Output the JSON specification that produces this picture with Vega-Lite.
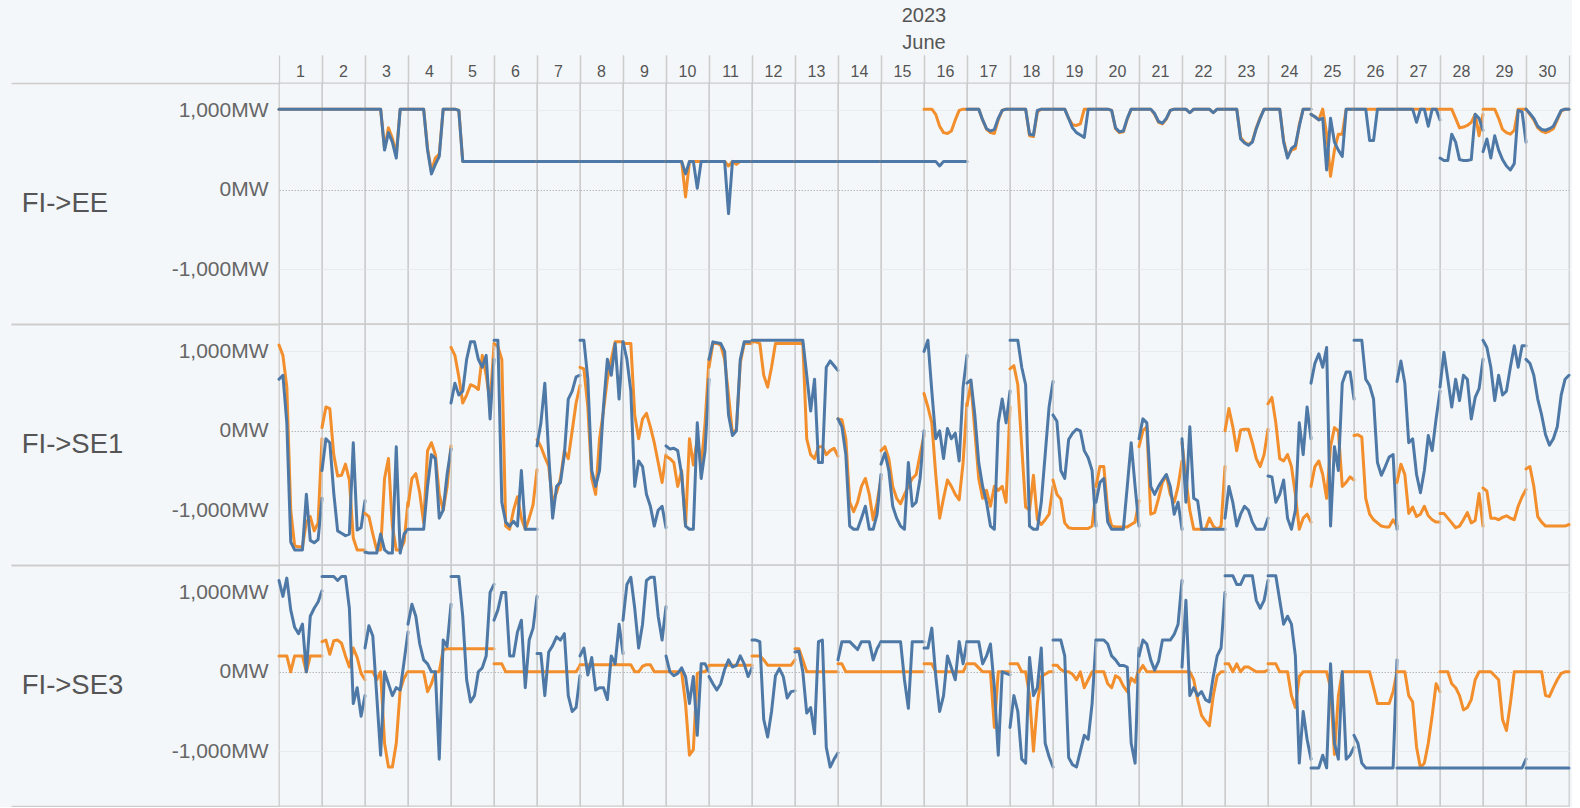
{
"$schema": "https://vega.github.io/schema/vega-lite/v6.json",
"background": "#f4f7f9",
"padding": {"left": 10, "top": 6, "right": 0, "bottom": 0},
"data": {"values": [
{"c":"FI->EE","d":1,"h":0,"o":1016,"b":1016},{"c":"FI->EE","d":1,"h":2,"o":1016,"b":1016},{"c":"FI->EE","d":1,"h":4,"o":1016,"b":1016},{"c":"FI->EE","d":1,"h":6,"o":1016,"b":1016},{"c":"FI->EE","d":1,"h":8,"o":1016,"b":1016},{"c":"FI->EE","d":1,"h":10,"o":1016,"b":1016},{"c":"FI->EE","d":1,"h":12,"o":1016,"b":1016},{"c":"FI->EE","d":1,"h":14,"o":1016,"b":1016},{"c":"FI->EE","d":1,"h":16,"o":1016,"b":1016},{"c":"FI->EE","d":1,"h":18,"o":1016,"b":1016},{"c":"FI->EE","d":1,"h":20,"o":1016,"b":1016},{"c":"FI->EE","d":1,"h":22,"o":1016,"b":1016},
{"c":"FI->EE","d":2,"h":0,"o":1016,"b":1016},{"c":"FI->EE","d":2,"h":2,"o":1016,"b":1016},{"c":"FI->EE","d":2,"h":4,"o":1016,"b":1016},{"c":"FI->EE","d":2,"h":6,"o":1016,"b":1016},{"c":"FI->EE","d":2,"h":8,"o":1016,"b":1016},{"c":"FI->EE","d":2,"h":10,"o":1016,"b":1016},{"c":"FI->EE","d":2,"h":12,"o":1016,"b":1016},{"c":"FI->EE","d":2,"h":14,"o":1016,"b":1016},{"c":"FI->EE","d":2,"h":16,"o":1016,"b":1016},{"c":"FI->EE","d":2,"h":18,"o":1016,"b":1016},{"c":"FI->EE","d":2,"h":20,"o":1016,"b":1016},{"c":"FI->EE","d":2,"h":22,"o":1016,"b":1016},
{"c":"FI->EE","d":3,"h":0,"o":1016,"b":1016},{"c":"FI->EE","d":3,"h":2,"o":1016,"b":1016},{"c":"FI->EE","d":3,"h":4,"o":1016,"b":1016},{"c":"FI->EE","d":3,"h":6,"o":1016,"b":1016},{"c":"FI->EE","d":3,"h":8,"o":1016,"b":1016},{"c":"FI->EE","d":3,"h":10,"o":520,"b":500},{"c":"FI->EE","d":3,"h":12,"o":780,"b":720},{"c":"FI->EE","d":3,"h":14,"o":650,"b":600},{"c":"FI->EE","d":3,"h":16,"o":450,"b":400},{"c":"FI->EE","d":3,"h":18,"o":1016,"b":1016},{"c":"FI->EE","d":3,"h":20,"o":1016,"b":1016},{"c":"FI->EE","d":3,"h":22,"o":1016,"b":1016},
{"c":"FI->EE","d":4,"h":0,"o":1016,"b":1016},{"c":"FI->EE","d":4,"h":2,"o":1016,"b":1016},{"c":"FI->EE","d":4,"h":4,"o":1016,"b":1016},{"c":"FI->EE","d":4,"h":6,"o":1016,"b":1016},{"c":"FI->EE","d":4,"h":8,"o":1016,"b":1016},{"c":"FI->EE","d":4,"h":10,"o":520,"b":500},{"c":"FI->EE","d":4,"h":12,"o":230,"b":200},{"c":"FI->EE","d":4,"h":14,"o":400,"b":320},{"c":"FI->EE","d":4,"h":16,"o":450,"b":420},{"c":"FI->EE","d":4,"h":18,"o":1016,"b":1016},{"c":"FI->EE","d":4,"h":20,"o":1016,"b":1016},{"c":"FI->EE","d":4,"h":22,"o":1016,"b":1016},
{"c":"FI->EE","d":5,"h":0,"o":1016,"b":1016},{"c":"FI->EE","d":5,"h":2,"o":1016,"b":1016},{"c":"FI->EE","d":5,"h":4,"o":1000,"b":1000},{"c":"FI->EE","d":5,"h":6,"o":358,"b":358},{"c":"FI->EE","d":5,"h":8,"o":358,"b":358},{"c":"FI->EE","d":5,"h":10,"o":358,"b":358},{"c":"FI->EE","d":5,"h":12,"o":358,"b":358},{"c":"FI->EE","d":5,"h":14,"o":358,"b":358},{"c":"FI->EE","d":5,"h":16,"o":358,"b":358},{"c":"FI->EE","d":5,"h":18,"o":358,"b":358},{"c":"FI->EE","d":5,"h":20,"o":358,"b":358},{"c":"FI->EE","d":5,"h":22,"o":358,"b":358},
{"c":"FI->EE","d":6,"h":0,"o":358,"b":358},{"c":"FI->EE","d":6,"h":2,"o":358,"b":358},{"c":"FI->EE","d":6,"h":4,"o":358,"b":358},{"c":"FI->EE","d":6,"h":6,"o":358,"b":358},{"c":"FI->EE","d":6,"h":8,"o":358,"b":358},{"c":"FI->EE","d":6,"h":10,"o":358,"b":358},{"c":"FI->EE","d":6,"h":12,"o":358,"b":358},{"c":"FI->EE","d":6,"h":14,"o":358,"b":358},{"c":"FI->EE","d":6,"h":16,"o":358,"b":358},{"c":"FI->EE","d":6,"h":18,"o":358,"b":358},{"c":"FI->EE","d":6,"h":20,"o":358,"b":358},{"c":"FI->EE","d":6,"h":22,"o":358,"b":358},
{"c":"FI->EE","d":7,"h":0,"o":358,"b":358},{"c":"FI->EE","d":7,"h":2,"o":358,"b":358},{"c":"FI->EE","d":7,"h":4,"o":358,"b":358},{"c":"FI->EE","d":7,"h":6,"o":358,"b":358},{"c":"FI->EE","d":7,"h":8,"o":358,"b":358},{"c":"FI->EE","d":7,"h":10,"o":358,"b":358},{"c":"FI->EE","d":7,"h":12,"o":358,"b":358},{"c":"FI->EE","d":7,"h":14,"o":358,"b":358},{"c":"FI->EE","d":7,"h":16,"o":358,"b":358},{"c":"FI->EE","d":7,"h":18,"o":358,"b":358},{"c":"FI->EE","d":7,"h":20,"o":358,"b":358},{"c":"FI->EE","d":7,"h":22,"o":358,"b":358},
{"c":"FI->EE","d":8,"h":0,"o":358,"b":358},{"c":"FI->EE","d":8,"h":2,"o":358,"b":358},{"c":"FI->EE","d":8,"h":4,"o":358,"b":358},{"c":"FI->EE","d":8,"h":6,"o":358,"b":358},{"c":"FI->EE","d":8,"h":8,"o":358,"b":358},{"c":"FI->EE","d":8,"h":10,"o":358,"b":358},{"c":"FI->EE","d":8,"h":12,"o":358,"b":358},{"c":"FI->EE","d":8,"h":14,"o":358,"b":358},{"c":"FI->EE","d":8,"h":16,"o":358,"b":358},{"c":"FI->EE","d":8,"h":18,"o":358,"b":358},{"c":"FI->EE","d":8,"h":20,"o":358,"b":358},{"c":"FI->EE","d":8,"h":22,"o":358,"b":358},
{"c":"FI->EE","d":9,"h":0,"o":358,"b":358},{"c":"FI->EE","d":9,"h":2,"o":358,"b":358},{"c":"FI->EE","d":9,"h":4,"o":358,"b":358},{"c":"FI->EE","d":9,"h":6,"o":358,"b":358},{"c":"FI->EE","d":9,"h":8,"o":358,"b":358},{"c":"FI->EE","d":9,"h":10,"o":358,"b":358},{"c":"FI->EE","d":9,"h":12,"o":358,"b":358},{"c":"FI->EE","d":9,"h":14,"o":358,"b":358},{"c":"FI->EE","d":9,"h":16,"o":358,"b":358},{"c":"FI->EE","d":9,"h":18,"o":358,"b":358},{"c":"FI->EE","d":9,"h":20,"o":358,"b":358},{"c":"FI->EE","d":9,"h":22,"o":358,"b":358},
{"c":"FI->EE","d":10,"h":0,"o":358,"b":358},{"c":"FI->EE","d":10,"h":2,"o":358,"b":358},{"c":"FI->EE","d":10,"h":4,"o":358,"b":358},{"c":"FI->EE","d":10,"h":6,"o":358,"b":358},{"c":"FI->EE","d":10,"h":8,"o":358,"b":358},{"c":"FI->EE","d":10,"h":10,"o":-90,"b":200},{"c":"FI->EE","d":10,"h":12,"o":358,"b":358},{"c":"FI->EE","d":10,"h":14,"o":358,"b":358},{"c":"FI->EE","d":10,"h":16,"o":358,"b":20},{"c":"FI->EE","d":10,"h":18,"o":358,"b":358},{"c":"FI->EE","d":10,"h":20,"o":358,"b":358},{"c":"FI->EE","d":10,"h":22,"o":358,"b":358},
{"c":"FI->EE","d":11,"h":0,"o":358,"b":358},{"c":"FI->EE","d":11,"h":2,"o":358,"b":358},{"c":"FI->EE","d":11,"h":4,"o":358,"b":358},{"c":"FI->EE","d":11,"h":6,"o":358,"b":358},{"c":"FI->EE","d":11,"h":8,"o":358,"b":358},{"c":"FI->EE","d":11,"h":10,"o":300,"b":-300},{"c":"FI->EE","d":11,"h":12,"o":358,"b":358},{"c":"FI->EE","d":11,"h":14,"o":320,"b":358},{"c":"FI->EE","d":11,"h":16,"o":358,"b":358},{"c":"FI->EE","d":11,"h":18,"o":358,"b":358},{"c":"FI->EE","d":11,"h":20,"o":358,"b":358},{"c":"FI->EE","d":11,"h":22,"o":358,"b":358},
{"c":"FI->EE","d":12,"h":0,"o":358,"b":358},{"c":"FI->EE","d":12,"h":2,"o":358,"b":358},{"c":"FI->EE","d":12,"h":4,"o":358,"b":358},{"c":"FI->EE","d":12,"h":6,"o":358,"b":358},{"c":"FI->EE","d":12,"h":8,"o":358,"b":358},{"c":"FI->EE","d":12,"h":10,"o":358,"b":358},{"c":"FI->EE","d":12,"h":12,"o":358,"b":358},{"c":"FI->EE","d":12,"h":14,"o":358,"b":358},{"c":"FI->EE","d":12,"h":16,"o":358,"b":358},{"c":"FI->EE","d":12,"h":18,"o":358,"b":358},{"c":"FI->EE","d":12,"h":20,"o":358,"b":358},{"c":"FI->EE","d":12,"h":22,"o":358,"b":358},
{"c":"FI->EE","d":13,"h":0,"o":358,"b":358},{"c":"FI->EE","d":13,"h":2,"o":358,"b":358},{"c":"FI->EE","d":13,"h":4,"o":358,"b":358},{"c":"FI->EE","d":13,"h":6,"o":358,"b":358},{"c":"FI->EE","d":13,"h":8,"o":358,"b":358},{"c":"FI->EE","d":13,"h":10,"o":358,"b":358},{"c":"FI->EE","d":13,"h":12,"o":358,"b":358},{"c":"FI->EE","d":13,"h":14,"o":358,"b":358},{"c":"FI->EE","d":13,"h":16,"o":358,"b":358},{"c":"FI->EE","d":13,"h":18,"o":358,"b":358},{"c":"FI->EE","d":13,"h":20,"o":358,"b":358},{"c":"FI->EE","d":13,"h":22,"o":358,"b":358},
{"c":"FI->EE","d":14,"h":0,"o":358,"b":358},{"c":"FI->EE","d":14,"h":2,"o":358,"b":358},{"c":"FI->EE","d":14,"h":4,"o":358,"b":358},{"c":"FI->EE","d":14,"h":6,"o":358,"b":358},{"c":"FI->EE","d":14,"h":8,"o":358,"b":358},{"c":"FI->EE","d":14,"h":10,"o":358,"b":358},{"c":"FI->EE","d":14,"h":12,"o":358,"b":358},{"c":"FI->EE","d":14,"h":14,"o":358,"b":358},{"c":"FI->EE","d":14,"h":16,"o":358,"b":358},{"c":"FI->EE","d":14,"h":18,"o":358,"b":358},{"c":"FI->EE","d":14,"h":20,"o":358,"b":358},{"c":"FI->EE","d":14,"h":22,"o":358,"b":358},
{"c":"FI->EE","d":15,"h":0,"o":358,"b":358},{"c":"FI->EE","d":15,"h":2,"o":358,"b":358},{"c":"FI->EE","d":15,"h":4,"o":358,"b":358},{"c":"FI->EE","d":15,"h":6,"o":358,"b":358},{"c":"FI->EE","d":15,"h":8,"o":358,"b":358},{"c":"FI->EE","d":15,"h":10,"o":358,"b":358},{"c":"FI->EE","d":15,"h":12,"o":358,"b":358},{"c":"FI->EE","d":15,"h":14,"o":358,"b":358},{"c":"FI->EE","d":15,"h":16,"o":358,"b":358},{"c":"FI->EE","d":15,"h":18,"o":358,"b":358},{"c":"FI->EE","d":15,"h":20,"o":358,"b":358},{"c":"FI->EE","d":15,"h":22,"o":358,"b":358},
{"c":"FI->EE","d":16,"h":0,"o":1016,"b":358},{"c":"FI->EE","d":16,"h":2,"o":1016,"b":358},{"c":"FI->EE","d":16,"h":4,"o":1016,"b":358},{"c":"FI->EE","d":16,"h":6,"o":950,"b":358},{"c":"FI->EE","d":16,"h":8,"o":800,"b":300},{"c":"FI->EE","d":16,"h":10,"o":720,"b":358},{"c":"FI->EE","d":16,"h":12,"o":710,"b":358},{"c":"FI->EE","d":16,"h":14,"o":740,"b":358},{"c":"FI->EE","d":16,"h":16,"o":880,"b":358},{"c":"FI->EE","d":16,"h":18,"o":1000,"b":358},{"c":"FI->EE","d":16,"h":20,"o":1016,"b":358},{"c":"FI->EE","d":16,"h":22,"o":1016,"b":358},
{"c":"FI->EE","d":17,"h":0,"o":1016,"b":1016},{"c":"FI->EE","d":17,"h":2,"o":1016,"b":1016},{"c":"FI->EE","d":17,"h":4,"o":1016,"b":1016},{"c":"FI->EE","d":17,"h":6,"o":1016,"b":1016},{"c":"FI->EE","d":17,"h":8,"o":880,"b":880},{"c":"FI->EE","d":17,"h":10,"o":760,"b":770},{"c":"FI->EE","d":17,"h":12,"o":720,"b":740},{"c":"FI->EE","d":17,"h":14,"o":710,"b":760},{"c":"FI->EE","d":17,"h":16,"o":880,"b":900},{"c":"FI->EE","d":17,"h":18,"o":1000,"b":1000},{"c":"FI->EE","d":17,"h":20,"o":1016,"b":1016},{"c":"FI->EE","d":17,"h":22,"o":1016,"b":1016},
{"c":"FI->EE","d":18,"h":0,"o":1016,"b":1016},{"c":"FI->EE","d":18,"h":2,"o":1016,"b":1016},{"c":"FI->EE","d":18,"h":4,"o":1016,"b":1016},{"c":"FI->EE","d":18,"h":6,"o":1016,"b":1016},{"c":"FI->EE","d":18,"h":8,"o":1016,"b":1016},{"c":"FI->EE","d":18,"h":10,"o":680,"b":700},{"c":"FI->EE","d":18,"h":12,"o":670,"b":690},{"c":"FI->EE","d":18,"h":14,"o":980,"b":1000},{"c":"FI->EE","d":18,"h":16,"o":1016,"b":1016},{"c":"FI->EE","d":18,"h":18,"o":1016,"b":1016},{"c":"FI->EE","d":18,"h":20,"o":1016,"b":1016},{"c":"FI->EE","d":18,"h":22,"o":1016,"b":1016},
{"c":"FI->EE","d":19,"h":0,"o":1016,"b":1016},{"c":"FI->EE","d":19,"h":2,"o":1016,"b":1016},{"c":"FI->EE","d":19,"h":4,"o":1016,"b":1016},{"c":"FI->EE","d":19,"h":6,"o":1016,"b":1016},{"c":"FI->EE","d":19,"h":8,"o":900,"b":900},{"c":"FI->EE","d":19,"h":10,"o":820,"b":780},{"c":"FI->EE","d":19,"h":12,"o":810,"b":720},{"c":"FI->EE","d":19,"h":14,"o":830,"b":690},{"c":"FI->EE","d":19,"h":16,"o":1016,"b":660},{"c":"FI->EE","d":19,"h":18,"o":1016,"b":1016},{"c":"FI->EE","d":19,"h":20,"o":1016,"b":1016},{"c":"FI->EE","d":19,"h":22,"o":1016,"b":1016},
{"c":"FI->EE","d":20,"h":0,"o":1016,"b":1016},{"c":"FI->EE","d":20,"h":2,"o":1016,"b":1016},{"c":"FI->EE","d":20,"h":4,"o":1016,"b":1016},{"c":"FI->EE","d":20,"h":6,"o":1016,"b":1016},{"c":"FI->EE","d":20,"h":8,"o":1000,"b":1000},{"c":"FI->EE","d":20,"h":10,"o":770,"b":780},{"c":"FI->EE","d":20,"h":12,"o":720,"b":730},{"c":"FI->EE","d":20,"h":14,"o":730,"b":740},{"c":"FI->EE","d":20,"h":16,"o":890,"b":900},{"c":"FI->EE","d":20,"h":18,"o":1016,"b":1016},{"c":"FI->EE","d":20,"h":20,"o":1016,"b":1016},{"c":"FI->EE","d":20,"h":22,"o":1016,"b":1016},
{"c":"FI->EE","d":21,"h":0,"o":1016,"b":1016},{"c":"FI->EE","d":21,"h":2,"o":1016,"b":1016},{"c":"FI->EE","d":21,"h":4,"o":1016,"b":1016},{"c":"FI->EE","d":21,"h":6,"o":1016,"b":1016},{"c":"FI->EE","d":21,"h":8,"o":950,"b":960},{"c":"FI->EE","d":21,"h":10,"o":850,"b":860},{"c":"FI->EE","d":21,"h":12,"o":830,"b":840},{"c":"FI->EE","d":21,"h":14,"o":890,"b":900},{"c":"FI->EE","d":21,"h":16,"o":1000,"b":1000},{"c":"FI->EE","d":21,"h":18,"o":1016,"b":1016},{"c":"FI->EE","d":21,"h":20,"o":1016,"b":1016},{"c":"FI->EE","d":21,"h":22,"o":1016,"b":1016},
{"c":"FI->EE","d":22,"h":0,"o":1016,"b":1016},{"c":"FI->EE","d":22,"h":2,"o":1016,"b":1016},{"c":"FI->EE","d":22,"h":4,"o":970,"b":970},{"c":"FI->EE","d":22,"h":6,"o":1016,"b":1016},{"c":"FI->EE","d":22,"h":8,"o":1016,"b":1016},{"c":"FI->EE","d":22,"h":10,"o":1016,"b":1016},{"c":"FI->EE","d":22,"h":12,"o":1016,"b":1016},{"c":"FI->EE","d":22,"h":14,"o":1016,"b":1016},{"c":"FI->EE","d":22,"h":16,"o":970,"b":970},{"c":"FI->EE","d":22,"h":18,"o":1016,"b":1016},{"c":"FI->EE","d":22,"h":20,"o":1016,"b":1016},{"c":"FI->EE","d":22,"h":22,"o":1016,"b":1016},
{"c":"FI->EE","d":23,"h":0,"o":1016,"b":1016},{"c":"FI->EE","d":23,"h":2,"o":1016,"b":1016},{"c":"FI->EE","d":23,"h":4,"o":1016,"b":1016},{"c":"FI->EE","d":23,"h":6,"o":1016,"b":1016},{"c":"FI->EE","d":23,"h":8,"o":660,"b":640},{"c":"FI->EE","d":23,"h":10,"o":600,"b":590},{"c":"FI->EE","d":23,"h":12,"o":570,"b":560},{"c":"FI->EE","d":23,"h":14,"o":610,"b":600},{"c":"FI->EE","d":23,"h":16,"o":780,"b":770},{"c":"FI->EE","d":23,"h":18,"o":910,"b":900},{"c":"FI->EE","d":23,"h":20,"o":1016,"b":1016},{"c":"FI->EE","d":23,"h":22,"o":1016,"b":1016},
{"c":"FI->EE","d":24,"h":0,"o":1016,"b":1016},{"c":"FI->EE","d":24,"h":2,"o":1016,"b":1016},{"c":"FI->EE","d":24,"h":4,"o":1016,"b":1016},{"c":"FI->EE","d":24,"h":6,"o":1016,"b":1016},{"c":"FI->EE","d":24,"h":8,"o":620,"b":600},{"c":"FI->EE","d":24,"h":10,"o":420,"b":400},{"c":"FI->EE","d":24,"h":12,"o":500,"b":520},{"c":"FI->EE","d":24,"h":14,"o":520,"b":560},{"c":"FI->EE","d":24,"h":16,"o":820,"b":800},{"c":"FI->EE","d":24,"h":18,"o":1016,"b":1016},{"c":"FI->EE","d":24,"h":20,"o":1016,"b":1016},{"c":"FI->EE","d":24,"h":22,"o":1016,"b":1016},
{"c":"FI->EE","d":25,"h":0,"o":950,"b":950},{"c":"FI->EE","d":25,"h":2,"o":920,"b":920},{"c":"FI->EE","d":25,"h":4,"o":880,"b":880},{"c":"FI->EE","d":25,"h":6,"o":1016,"b":900},{"c":"FI->EE","d":25,"h":8,"o":700,"b":250},{"c":"FI->EE","d":25,"h":10,"o":170,"b":900},{"c":"FI->EE","d":25,"h":12,"o":500,"b":600},{"c":"FI->EE","d":25,"h":14,"o":700,"b":500},{"c":"FI->EE","d":25,"h":16,"o":700,"b":420},{"c":"FI->EE","d":25,"h":18,"o":1016,"b":1016},{"c":"FI->EE","d":25,"h":20,"o":1016,"b":1016},{"c":"FI->EE","d":25,"h":22,"o":1016,"b":1016},
{"c":"FI->EE","d":26,"h":0,"o":1016,"b":1016},{"c":"FI->EE","d":26,"h":2,"o":1016,"b":1016},{"c":"FI->EE","d":26,"h":4,"o":1016,"b":1016},{"c":"FI->EE","d":26,"h":6,"o":1016,"b":1016},{"c":"FI->EE","d":26,"h":8,"o":1016,"b":620},{"c":"FI->EE","d":26,"h":10,"o":1016,"b":620},{"c":"FI->EE","d":26,"h":12,"o":1016,"b":1016},{"c":"FI->EE","d":26,"h":14,"o":1016,"b":1016},{"c":"FI->EE","d":26,"h":16,"o":1016,"b":1016},{"c":"FI->EE","d":26,"h":18,"o":1016,"b":1016},{"c":"FI->EE","d":26,"h":20,"o":1016,"b":1016},{"c":"FI->EE","d":26,"h":22,"o":1016,"b":1016},
{"c":"FI->EE","d":27,"h":0,"o":1016,"b":1016},{"c":"FI->EE","d":27,"h":2,"o":1016,"b":1016},{"c":"FI->EE","d":27,"h":4,"o":1016,"b":1016},{"c":"FI->EE","d":27,"h":6,"o":1016,"b":1016},{"c":"FI->EE","d":27,"h":8,"o":1016,"b":1016},{"c":"FI->EE","d":27,"h":10,"o":1016,"b":850},{"c":"FI->EE","d":27,"h":12,"o":1016,"b":1016},{"c":"FI->EE","d":27,"h":14,"o":1016,"b":1016},{"c":"FI->EE","d":27,"h":16,"o":1016,"b":800},{"c":"FI->EE","d":27,"h":18,"o":1016,"b":1016},{"c":"FI->EE","d":27,"h":20,"o":1016,"b":1016},{"c":"FI->EE","d":27,"h":22,"o":1016,"b":880},
{"c":"FI->EE","d":28,"h":0,"o":1016,"b":400},{"c":"FI->EE","d":28,"h":2,"o":1016,"b":370},{"c":"FI->EE","d":28,"h":4,"o":1016,"b":370},{"c":"FI->EE","d":28,"h":6,"o":1016,"b":700},{"c":"FI->EE","d":28,"h":8,"o":900,"b":600},{"c":"FI->EE","d":28,"h":10,"o":780,"b":380},{"c":"FI->EE","d":28,"h":12,"o":790,"b":370},{"c":"FI->EE","d":28,"h":14,"o":810,"b":370},{"c":"FI->EE","d":28,"h":16,"o":850,"b":380},{"c":"FI->EE","d":28,"h":18,"o":950,"b":950},{"c":"FI->EE","d":28,"h":20,"o":680,"b":900},{"c":"FI->EE","d":28,"h":22,"o":950,"b":750},
{"c":"FI->EE","d":29,"h":0,"o":1016,"b":480},{"c":"FI->EE","d":29,"h":2,"o":1016,"b":640},{"c":"FI->EE","d":29,"h":4,"o":1016,"b":400},{"c":"FI->EE","d":29,"h":6,"o":1016,"b":680},{"c":"FI->EE","d":29,"h":8,"o":900,"b":500},{"c":"FI->EE","d":29,"h":10,"o":760,"b":380},{"c":"FI->EE","d":29,"h":12,"o":720,"b":300},{"c":"FI->EE","d":29,"h":14,"o":700,"b":250},{"c":"FI->EE","d":29,"h":16,"o":750,"b":330},{"c":"FI->EE","d":29,"h":18,"o":1016,"b":1000},{"c":"FI->EE","d":29,"h":20,"o":1016,"b":980},{"c":"FI->EE","d":29,"h":22,"o":1016,"b":600},
{"c":"FI->EE","d":30,"h":0,"o":1016,"b":1016},{"c":"FI->EE","d":30,"h":2,"o":950,"b":960},{"c":"FI->EE","d":30,"h":4,"o":880,"b":900},{"c":"FI->EE","d":30,"h":6,"o":780,"b":800},{"c":"FI->EE","d":30,"h":8,"o":740,"b":760},{"c":"FI->EE","d":30,"h":10,"o":720,"b":750},{"c":"FI->EE","d":30,"h":12,"o":740,"b":770},{"c":"FI->EE","d":30,"h":14,"o":770,"b":800},{"c":"FI->EE","d":30,"h":16,"o":880,"b":900},{"c":"FI->EE","d":30,"h":18,"o":990,"b":1000},{"c":"FI->EE","d":30,"h":20,"o":1016,"b":1016},{"c":"FI->EE","d":30,"h":22,"o":1016,"b":1016},

{"c":"FI->SE1","d":1,"h":0,"o":1080,"b":650},{"c":"FI->SE1","d":1,"h":2,"o":950,"b":700},{"c":"FI->SE1","d":1,"h":4,"o":550,"b":100},{"c":"FI->SE1","d":1,"h":6,"o":-1000,"b":-1400},{"c":"FI->SE1","d":1,"h":8,"o":-1450,"b":-1500},{"c":"FI->SE1","d":1,"h":10,"o":-1460,"b":-1500},{"c":"FI->SE1","d":1,"h":12,"o":-1460,"b":-1500},{"c":"FI->SE1","d":1,"h":14,"o":-1150,"b":-800},{"c":"FI->SE1","d":1,"h":16,"o":-1080,"b":-1380},{"c":"FI->SE1","d":1,"h":18,"o":-1260,"b":-1410},{"c":"FI->SE1","d":1,"h":20,"o":-1160,"b":-1370},{"c":"FI->SE1","d":1,"h":22,"o":-100,"b":-850},
{"c":"FI->SE1","d":2,"h":0,"o":40,"b":-500},{"c":"FI->SE1","d":2,"h":2,"o":300,"b":-100},{"c":"FI->SE1","d":2,"h":4,"o":280,"b":-150},{"c":"FI->SE1","d":2,"h":6,"o":-300,"b":-780},{"c":"FI->SE1","d":2,"h":8,"o":-570,"b":-1260},{"c":"FI->SE1","d":2,"h":10,"o":-560,"b":-1290},{"c":"FI->SE1","d":2,"h":12,"o":-420,"b":-1320},{"c":"FI->SE1","d":2,"h":14,"o":-620,"b":-1300},{"c":"FI->SE1","d":2,"h":16,"o":-1350,"b":-150},{"c":"FI->SE1","d":2,"h":18,"o":-1500,"b":-1250},{"c":"FI->SE1","d":2,"h":20,"o":-1500,"b":-1220},{"c":"FI->SE1","d":2,"h":22,"o":-1500,"b":-880},
{"c":"FI->SE1","d":3,"h":0,"o":-1040,"b":-1530},{"c":"FI->SE1","d":3,"h":2,"o":-1080,"b":-1540},{"c":"FI->SE1","d":3,"h":4,"o":-1300,"b":-1540},{"c":"FI->SE1","d":3,"h":6,"o":-1500,"b":-1540},{"c":"FI->SE1","d":3,"h":8,"o":-1500,"b":-1300},{"c":"FI->SE1","d":3,"h":10,"o":-600,"b":-1500},{"c":"FI->SE1","d":3,"h":12,"o":-350,"b":-1540},{"c":"FI->SE1","d":3,"h":14,"o":-1200,"b":-1540},{"c":"FI->SE1","d":3,"h":16,"o":-1500,"b":-200},{"c":"FI->SE1","d":3,"h":18,"o":-1500,"b":-1540},{"c":"FI->SE1","d":3,"h":20,"o":-1400,"b":-1300},{"c":"FI->SE1","d":3,"h":22,"o":-900,"b":-1240},
{"c":"FI->SE1","d":4,"h":0,"o":-950,"b":-1240},{"c":"FI->SE1","d":4,"h":2,"o":-600,"b":-1240},{"c":"FI->SE1","d":4,"h":4,"o":-540,"b":-1240},{"c":"FI->SE1","d":4,"h":6,"o":-780,"b":-1240},{"c":"FI->SE1","d":4,"h":8,"o":-1160,"b":-1240},{"c":"FI->SE1","d":4,"h":10,"o":-250,"b":-700},{"c":"FI->SE1","d":4,"h":12,"o":-150,"b":-300},{"c":"FI->SE1","d":4,"h":14,"o":-300,"b":-350},{"c":"FI->SE1","d":4,"h":16,"o":-800,"b":-1100},{"c":"FI->SE1","d":4,"h":18,"o":-1000,"b":-1000},{"c":"FI->SE1","d":4,"h":20,"o":-700,"b":-550},{"c":"FI->SE1","d":4,"h":22,"o":-190,"b":-230},
{"c":"FI->SE1","d":5,"h":0,"o":1050,"b":350},{"c":"FI->SE1","d":5,"h":2,"o":950,"b":600},{"c":"FI->SE1","d":5,"h":4,"o":680,"b":450},{"c":"FI->SE1","d":5,"h":6,"o":350,"b":500},{"c":"FI->SE1","d":5,"h":8,"o":450,"b":900},{"c":"FI->SE1","d":5,"h":10,"o":580,"b":1120},{"c":"FI->SE1","d":5,"h":12,"o":560,"b":1120},{"c":"FI->SE1","d":5,"h":14,"o":520,"b":900},{"c":"FI->SE1","d":5,"h":16,"o":950,"b":800},{"c":"FI->SE1","d":5,"h":18,"o":700,"b":950},{"c":"FI->SE1","d":5,"h":20,"o":350,"b":150},{"c":"FI->SE1","d":5,"h":22,"o":1080,"b":900},
{"c":"FI->SE1","d":6,"h":0,"o":1100,"b":1140},{"c":"FI->SE1","d":6,"h":2,"o":1060,"b":1140},{"c":"FI->SE1","d":6,"h":4,"o":900,"b":-900},{"c":"FI->SE1","d":6,"h":6,"o":-1200,"b":-1150},{"c":"FI->SE1","d":6,"h":8,"o":-1240,"b":-1200},{"c":"FI->SE1","d":6,"h":10,"o":-1000,"b":-1140},{"c":"FI->SE1","d":6,"h":12,"o":-830,"b":-1200},{"c":"FI->SE1","d":6,"h":14,"o":-1100,"b":-500},{"c":"FI->SE1","d":6,"h":16,"o":-1240,"b":-1240},{"c":"FI->SE1","d":6,"h":18,"o":-1100,"b":-1240},{"c":"FI->SE1","d":6,"h":20,"o":-930,"b":-1240},{"c":"FI->SE1","d":6,"h":22,"o":-490,"b":-1240},
{"c":"FI->SE1","d":7,"h":0,"o":-110,"b":-190},{"c":"FI->SE1","d":7,"h":2,"o":-200,"b":100},{"c":"FI->SE1","d":7,"h":4,"o":-330,"b":600},{"c":"FI->SE1","d":7,"h":6,"o":-450,"b":-300},{"c":"FI->SE1","d":7,"h":8,"o":-900,"b":-1100},{"c":"FI->SE1","d":7,"h":10,"o":-780,"b":-700},{"c":"FI->SE1","d":7,"h":12,"o":-600,"b":-650},{"c":"FI->SE1","d":7,"h":14,"o":-250,"b":-300},{"c":"FI->SE1","d":7,"h":16,"o":-350,"b":400},{"c":"FI->SE1","d":7,"h":18,"o":0,"b":500},{"c":"FI->SE1","d":7,"h":20,"o":350,"b":680},{"c":"FI->SE1","d":7,"h":22,"o":570,"b":700},
{"c":"FI->SE1","d":8,"h":0,"o":800,"b":1140},{"c":"FI->SE1","d":8,"h":2,"o":780,"b":1140},{"c":"FI->SE1","d":8,"h":4,"o":300,"b":650},{"c":"FI->SE1","d":8,"h":6,"o":-600,"b":-500},{"c":"FI->SE1","d":8,"h":8,"o":-800,"b":-700},{"c":"FI->SE1","d":8,"h":10,"o":-100,"b":-500},{"c":"FI->SE1","d":8,"h":12,"o":250,"b":300},{"c":"FI->SE1","d":8,"h":14,"o":650,"b":900},{"c":"FI->SE1","d":8,"h":16,"o":900,"b":700},{"c":"FI->SE1","d":8,"h":18,"o":1120,"b":1100},{"c":"FI->SE1","d":8,"h":20,"o":1120,"b":400},{"c":"FI->SE1","d":8,"h":22,"o":1120,"b":1120},
{"c":"FI->SE1","d":9,"h":0,"o":1100,"b":1120},{"c":"FI->SE1","d":9,"h":2,"o":1100,"b":900},{"c":"FI->SE1","d":9,"h":4,"o":1100,"b":500},{"c":"FI->SE1","d":9,"h":6,"o":200,"b":-700},{"c":"FI->SE1","d":9,"h":8,"o":-100,"b":-380},{"c":"FI->SE1","d":9,"h":10,"o":150,"b":-450},{"c":"FI->SE1","d":9,"h":12,"o":220,"b":-800},{"c":"FI->SE1","d":9,"h":14,"o":50,"b":-950},{"c":"FI->SE1","d":9,"h":16,"o":-150,"b":-1200},{"c":"FI->SE1","d":9,"h":18,"o":-400,"b":-1000},{"c":"FI->SE1","d":9,"h":20,"o":-650,"b":-950},{"c":"FI->SE1","d":9,"h":22,"o":-300,"b":-1220},
{"c":"FI->SE1","d":10,"h":0,"o":-320,"b":-190},{"c":"FI->SE1","d":10,"h":2,"o":-350,"b":-230},{"c":"FI->SE1","d":10,"h":4,"o":-400,"b":-220},{"c":"FI->SE1","d":10,"h":6,"o":-700,"b":-250},{"c":"FI->SE1","d":10,"h":8,"o":-500,"b":-550},{"c":"FI->SE1","d":10,"h":10,"o":-1200,"b":-1200},{"c":"FI->SE1","d":10,"h":12,"o":-100,"b":-1240},{"c":"FI->SE1","d":10,"h":14,"o":-430,"b":-1240},{"c":"FI->SE1","d":10,"h":16,"o":-100,"b":100},{"c":"FI->SE1","d":10,"h":18,"o":-450,"b":-600},{"c":"FI->SE1","d":10,"h":20,"o":100,"b":-250},{"c":"FI->SE1","d":10,"h":22,"o":900,"b":650},
{"c":"FI->SE1","d":11,"h":0,"o":800,"b":900},{"c":"FI->SE1","d":11,"h":2,"o":1100,"b":1120},{"c":"FI->SE1","d":11,"h":4,"o":1100,"b":1110},{"c":"FI->SE1","d":11,"h":6,"o":1080,"b":1100},{"c":"FI->SE1","d":11,"h":8,"o":900,"b":1000},{"c":"FI->SE1","d":11,"h":10,"o":450,"b":200},{"c":"FI->SE1","d":11,"h":12,"o":-40,"b":-60},{"c":"FI->SE1","d":11,"h":14,"o":20,"b":0},{"c":"FI->SE1","d":11,"h":16,"o":850,"b":900},{"c":"FI->SE1","d":11,"h":18,"o":1100,"b":1120},{"c":"FI->SE1","d":11,"h":20,"o":1100,"b":1120},{"c":"FI->SE1","d":11,"h":22,"o":1100,"b":1120},
{"c":"FI->SE1","d":12,"h":0,"o":1120,"b":1140},{"c":"FI->SE1","d":12,"h":2,"o":1120,"b":1140},{"c":"FI->SE1","d":12,"h":4,"o":1100,"b":1140},{"c":"FI->SE1","d":12,"h":6,"o":700,"b":1140},{"c":"FI->SE1","d":12,"h":8,"o":550,"b":1140},{"c":"FI->SE1","d":12,"h":10,"o":800,"b":1140},{"c":"FI->SE1","d":12,"h":12,"o":1100,"b":1140},{"c":"FI->SE1","d":12,"h":14,"o":1100,"b":1140},{"c":"FI->SE1","d":12,"h":16,"o":1100,"b":1140},{"c":"FI->SE1","d":12,"h":18,"o":1100,"b":1140},{"c":"FI->SE1","d":12,"h":20,"o":1100,"b":1140},{"c":"FI->SE1","d":12,"h":22,"o":1100,"b":1140},
{"c":"FI->SE1","d":13,"h":0,"o":1100,"b":1140},{"c":"FI->SE1","d":13,"h":2,"o":1100,"b":1140},{"c":"FI->SE1","d":13,"h":4,"o":1100,"b":1140},{"c":"FI->SE1","d":13,"h":6,"o":-100,"b":700},{"c":"FI->SE1","d":13,"h":8,"o":-300,"b":250},{"c":"FI->SE1","d":13,"h":10,"o":-350,"b":650},{"c":"FI->SE1","d":13,"h":12,"o":-200,"b":-400},{"c":"FI->SE1","d":13,"h":14,"o":-200,"b":-400},{"c":"FI->SE1","d":13,"h":16,"o":-300,"b":800},{"c":"FI->SE1","d":13,"h":18,"o":-250,"b":880},{"c":"FI->SE1","d":13,"h":20,"o":-220,"b":820},{"c":"FI->SE1","d":13,"h":22,"o":-320,"b":760},
{"c":"FI->SE1","d":14,"h":0,"o":150,"b":150},{"c":"FI->SE1","d":14,"h":2,"o":140,"b":50},{"c":"FI->SE1","d":14,"h":4,"o":-100,"b":-300},{"c":"FI->SE1","d":14,"h":6,"o":-900,"b":-1200},{"c":"FI->SE1","d":14,"h":8,"o":-1020,"b":-1240},{"c":"FI->SE1","d":14,"h":10,"o":-900,"b":-1240},{"c":"FI->SE1","d":14,"h":12,"o":-700,"b":-1100},{"c":"FI->SE1","d":14,"h":14,"o":-600,"b":-950},{"c":"FI->SE1","d":14,"h":16,"o":-800,"b":-1240},{"c":"FI->SE1","d":14,"h":18,"o":-1120,"b":-1240},{"c":"FI->SE1","d":14,"h":20,"o":-900,"b":-1050},{"c":"FI->SE1","d":14,"h":22,"o":-600,"b":-550},
{"c":"FI->SE1","d":15,"h":0,"o":-250,"b":-420},{"c":"FI->SE1","d":15,"h":2,"o":-200,"b":-280},{"c":"FI->SE1","d":15,"h":4,"o":-350,"b":-500},{"c":"FI->SE1","d":15,"h":6,"o":-700,"b":-950},{"c":"FI->SE1","d":15,"h":8,"o":-850,"b":-1100},{"c":"FI->SE1","d":15,"h":10,"o":-920,"b":-1200},{"c":"FI->SE1","d":15,"h":12,"o":-800,"b":-1240},{"c":"FI->SE1","d":15,"h":14,"o":-700,"b":-400},{"c":"FI->SE1","d":15,"h":16,"o":-600,"b":-950},{"c":"FI->SE1","d":15,"h":18,"o":-550,"b":-900},{"c":"FI->SE1","d":15,"h":20,"o":-300,"b":-600},{"c":"FI->SE1","d":15,"h":22,"o":-60,"b":0},
{"c":"FI->SE1","d":16,"h":0,"o":470,"b":1000},{"c":"FI->SE1","d":16,"h":2,"o":300,"b":1140},{"c":"FI->SE1","d":16,"h":4,"o":100,"b":500},{"c":"FI->SE1","d":16,"h":6,"o":-550,"b":-100},{"c":"FI->SE1","d":16,"h":8,"o":-1100,"b":0},{"c":"FI->SE1","d":16,"h":10,"o":-850,"b":-350},{"c":"FI->SE1","d":16,"h":12,"o":-620,"b":30},{"c":"FI->SE1","d":16,"h":14,"o":-700,"b":-100},{"c":"FI->SE1","d":16,"h":16,"o":-800,"b":-30},{"c":"FI->SE1","d":16,"h":18,"o":-870,"b":-380},{"c":"FI->SE1","d":16,"h":20,"o":-400,"b":550},{"c":"FI->SE1","d":16,"h":22,"o":350,"b":950},
{"c":"FI->SE1","d":17,"h":0,"o":320,"b":600},{"c":"FI->SE1","d":17,"h":2,"o":600,"b":640},{"c":"FI->SE1","d":17,"h":4,"o":0,"b":200},{"c":"FI->SE1","d":17,"h":6,"o":-600,"b":-400},{"c":"FI->SE1","d":17,"h":8,"o":-850,"b":-700},{"c":"FI->SE1","d":17,"h":10,"o":-750,"b":-900},{"c":"FI->SE1","d":17,"h":12,"o":-950,"b":-1200},{"c":"FI->SE1","d":17,"h":14,"o":-700,"b":-1240},{"c":"FI->SE1","d":17,"h":16,"o":-750,"b":100},{"c":"FI->SE1","d":17,"h":18,"o":-700,"b":400},{"c":"FI->SE1","d":17,"h":20,"o":-900,"b":100},{"c":"FI->SE1","d":17,"h":22,"o":300,"b":500},
{"c":"FI->SE1","d":18,"h":0,"o":780,"b":1140},{"c":"FI->SE1","d":18,"h":2,"o":820,"b":1140},{"c":"FI->SE1","d":18,"h":4,"o":580,"b":1140},{"c":"FI->SE1","d":18,"h":6,"o":-200,"b":800},{"c":"FI->SE1","d":18,"h":8,"o":-960,"b":580},{"c":"FI->SE1","d":18,"h":10,"o":-1000,"b":-1200},{"c":"FI->SE1","d":18,"h":12,"o":-560,"b":-1240},{"c":"FI->SE1","d":18,"h":14,"o":-1120,"b":-1240},{"c":"FI->SE1","d":18,"h":16,"o":-1180,"b":-900},{"c":"FI->SE1","d":18,"h":18,"o":-1120,"b":-300},{"c":"FI->SE1","d":18,"h":20,"o":-1050,"b":300},{"c":"FI->SE1","d":18,"h":22,"o":-700,"b":620},
{"c":"FI->SE1","d":19,"h":0,"o":-620,"b":200},{"c":"FI->SE1","d":19,"h":2,"o":-800,"b":120},{"c":"FI->SE1","d":19,"h":4,"o":-860,"b":-500},{"c":"FI->SE1","d":19,"h":6,"o":-1160,"b":-600},{"c":"FI->SE1","d":19,"h":8,"o":-1220,"b":-110},{"c":"FI->SE1","d":19,"h":10,"o":-1230,"b":-30},{"c":"FI->SE1","d":19,"h":12,"o":-1230,"b":20},{"c":"FI->SE1","d":19,"h":14,"o":-1230,"b":0},{"c":"FI->SE1","d":19,"h":16,"o":-1230,"b":-250},{"c":"FI->SE1","d":19,"h":18,"o":-1230,"b":-340},{"c":"FI->SE1","d":19,"h":20,"o":-1200,"b":-500},{"c":"FI->SE1","d":19,"h":22,"o":-750,"b":-1200},
{"c":"FI->SE1","d":20,"h":0,"o":-700,"b":-900},{"c":"FI->SE1","d":20,"h":2,"o":-450,"b":-650},{"c":"FI->SE1","d":20,"h":4,"o":-450,"b":-600},{"c":"FI->SE1","d":20,"h":6,"o":-1000,"b":-1150},{"c":"FI->SE1","d":20,"h":8,"o":-1200,"b":-1240},{"c":"FI->SE1","d":20,"h":10,"o":-1210,"b":-1240},{"c":"FI->SE1","d":20,"h":12,"o":-1210,"b":-1240},{"c":"FI->SE1","d":20,"h":14,"o":-1210,"b":-1240},{"c":"FI->SE1","d":20,"h":16,"o":-1210,"b":-700},{"c":"FI->SE1","d":20,"h":18,"o":-1180,"b":-150},{"c":"FI->SE1","d":20,"h":20,"o":-1150,"b":-700},{"c":"FI->SE1","d":20,"h":22,"o":-880,"b":-1200},
{"c":"FI->SE1","d":21,"h":0,"o":-200,"b":-100},{"c":"FI->SE1","d":21,"h":2,"o":0,"b":150},{"c":"FI->SE1","d":21,"h":4,"o":50,"b":100},{"c":"FI->SE1","d":21,"h":6,"o":-1050,"b":-700},{"c":"FI->SE1","d":21,"h":8,"o":-1030,"b":-800},{"c":"FI->SE1","d":21,"h":10,"o":-850,"b":-700},{"c":"FI->SE1","d":21,"h":12,"o":-650,"b":-620},{"c":"FI->SE1","d":21,"h":14,"o":-560,"b":-550},{"c":"FI->SE1","d":21,"h":16,"o":-800,"b":-700},{"c":"FI->SE1","d":21,"h":18,"o":-900,"b":-1050},{"c":"FI->SE1","d":21,"h":20,"o":-700,"b":-900},{"c":"FI->SE1","d":21,"h":22,"o":-380,"b":-1240},
{"c":"FI->SE1","d":22,"h":0,"o":-150,"b":-100},{"c":"FI->SE1","d":22,"h":2,"o":-600,"b":-900},{"c":"FI->SE1","d":22,"h":4,"o":-1000,"b":50},{"c":"FI->SE1","d":22,"h":6,"o":-1240,"b":-850},{"c":"FI->SE1","d":22,"h":8,"o":-1240,"b":-880},{"c":"FI->SE1","d":22,"h":10,"o":-1240,"b":-1240},{"c":"FI->SE1","d":22,"h":12,"o":-1240,"b":-1240},{"c":"FI->SE1","d":22,"h":14,"o":-1100,"b":-1240},{"c":"FI->SE1","d":22,"h":16,"o":-1200,"b":-1240},{"c":"FI->SE1","d":22,"h":18,"o":-1240,"b":-1240},{"c":"FI->SE1","d":22,"h":20,"o":-1200,"b":-1240},{"c":"FI->SE1","d":22,"h":22,"o":-450,"b":-1240},
{"c":"FI->SE1","d":23,"h":0,"o":0,"b":-1100},{"c":"FI->SE1","d":23,"h":2,"o":280,"b":-700},{"c":"FI->SE1","d":23,"h":4,"o":50,"b":-900},{"c":"FI->SE1","d":23,"h":6,"o":-250,"b":-1200},{"c":"FI->SE1","d":23,"h":8,"o":10,"b":-1050},{"c":"FI->SE1","d":23,"h":10,"o":20,"b":-950},{"c":"FI->SE1","d":23,"h":12,"o":20,"b":-1000},{"c":"FI->SE1","d":23,"h":14,"o":-150,"b":-1150},{"c":"FI->SE1","d":23,"h":16,"o":-350,"b":-1240},{"c":"FI->SE1","d":23,"h":18,"o":-450,"b":-1240},{"c":"FI->SE1","d":23,"h":20,"o":-300,"b":-1240},{"c":"FI->SE1","d":23,"h":22,"o":20,"b":-1100},
{"c":"FI->SE1","d":24,"h":0,"o":340,"b":-570},{"c":"FI->SE1","d":24,"h":2,"o":420,"b":-580},{"c":"FI->SE1","d":24,"h":4,"o":100,"b":-900},{"c":"FI->SE1","d":24,"h":6,"o":-350,"b":-800},{"c":"FI->SE1","d":24,"h":8,"o":-380,"b":-620},{"c":"FI->SE1","d":24,"h":10,"o":-300,"b":-1100},{"c":"FI->SE1","d":24,"h":12,"o":-450,"b":-1240},{"c":"FI->SE1","d":24,"h":14,"o":-800,"b":-1000},{"c":"FI->SE1","d":24,"h":16,"o":-1240,"b":100},{"c":"FI->SE1","d":24,"h":18,"o":-1100,"b":-300},{"c":"FI->SE1","d":24,"h":20,"o":-1050,"b":300},{"c":"FI->SE1","d":24,"h":22,"o":-1150,"b":-100},
{"c":"FI->SE1","d":25,"h":0,"o":-700,"b":600},{"c":"FI->SE1","d":25,"h":2,"o":-450,"b":850},{"c":"FI->SE1","d":25,"h":4,"o":-380,"b":970},{"c":"FI->SE1","d":25,"h":6,"o":-550,"b":800},{"c":"FI->SE1","d":25,"h":8,"o":-850,"b":1050},{"c":"FI->SE1","d":25,"h":10,"o":-200,"b":-1200},{"c":"FI->SE1","d":25,"h":12,"o":40,"b":-200},{"c":"FI->SE1","d":25,"h":14,"o":0,"b":-500},{"c":"FI->SE1","d":25,"h":16,"o":-700,"b":600},{"c":"FI->SE1","d":25,"h":18,"o":-650,"b":740},{"c":"FI->SE1","d":25,"h":20,"o":-580,"b":740},{"c":"FI->SE1","d":25,"h":22,"o":-620,"b":400},
{"c":"FI->SE1","d":26,"h":0,"o":-60,"b":1140},{"c":"FI->SE1","d":26,"h":2,"o":-50,"b":1140},{"c":"FI->SE1","d":26,"h":4,"o":-80,"b":1140},{"c":"FI->SE1","d":26,"h":6,"o":-850,"b":650},{"c":"FI->SE1","d":26,"h":8,"o":-1050,"b":570},{"c":"FI->SE1","d":26,"h":10,"o":-1120,"b":400},{"c":"FI->SE1","d":26,"h":12,"o":-1160,"b":-400},{"c":"FI->SE1","d":26,"h":14,"o":-1200,"b":-560},{"c":"FI->SE1","d":26,"h":16,"o":-1210,"b":-450},{"c":"FI->SE1","d":26,"h":18,"o":-1210,"b":-330},{"c":"FI->SE1","d":26,"h":20,"o":-1120,"b":-300},{"c":"FI->SE1","d":26,"h":22,"o":-1200,"b":-1240},
{"c":"FI->SE1","d":27,"h":0,"o":-650,"b":620},{"c":"FI->SE1","d":27,"h":2,"o":-420,"b":880},{"c":"FI->SE1","d":27,"h":4,"o":-550,"b":600},{"c":"FI->SE1","d":27,"h":6,"o":-1040,"b":-150},{"c":"FI->SE1","d":27,"h":8,"o":-960,"b":-100},{"c":"FI->SE1","d":27,"h":10,"o":-1080,"b":-550},{"c":"FI->SE1","d":27,"h":12,"o":-1050,"b":-780},{"c":"FI->SE1","d":27,"h":14,"o":-950,"b":-500},{"c":"FI->SE1","d":27,"h":16,"o":-1070,"b":-60},{"c":"FI->SE1","d":27,"h":18,"o":-1120,"b":-250},{"c":"FI->SE1","d":27,"h":20,"o":-1150,"b":150},{"c":"FI->SE1","d":27,"h":22,"o":-1150,"b":500},
{"c":"FI->SE1","d":28,"h":0,"o":-1040,"b":550},{"c":"FI->SE1","d":28,"h":2,"o":-1040,"b":990},{"c":"FI->SE1","d":28,"h":4,"o":-1100,"b":650},{"c":"FI->SE1","d":28,"h":6,"o":-1160,"b":300},{"c":"FI->SE1","d":28,"h":8,"o":-1220,"b":650},{"c":"FI->SE1","d":28,"h":10,"o":-1200,"b":380},{"c":"FI->SE1","d":28,"h":12,"o":-1120,"b":700},{"c":"FI->SE1","d":28,"h":14,"o":-1030,"b":650},{"c":"FI->SE1","d":28,"h":16,"o":-1160,"b":150},{"c":"FI->SE1","d":28,"h":18,"o":-1130,"b":420},{"c":"FI->SE1","d":28,"h":20,"o":-790,"b":530},{"c":"FI->SE1","d":28,"h":22,"o":-1200,"b":900},
{"c":"FI->SE1","d":29,"h":0,"o":-720,"b":1140},{"c":"FI->SE1","d":29,"h":2,"o":-760,"b":1050},{"c":"FI->SE1","d":29,"h":4,"o":-1100,"b":800},{"c":"FI->SE1","d":29,"h":6,"o":-1100,"b":380},{"c":"FI->SE1","d":29,"h":8,"o":-1120,"b":700},{"c":"FI->SE1","d":29,"h":10,"o":-1090,"b":450},{"c":"FI->SE1","d":29,"h":12,"o":-1070,"b":500},{"c":"FI->SE1","d":29,"h":14,"o":-1100,"b":800},{"c":"FI->SE1","d":29,"h":16,"o":-1120,"b":1070},{"c":"FI->SE1","d":29,"h":18,"o":-950,"b":800},{"c":"FI->SE1","d":29,"h":20,"o":-830,"b":1070},{"c":"FI->SE1","d":29,"h":22,"o":-740,"b":1070},
{"c":"FI->SE1","d":30,"h":0,"o":-480,"b":900},{"c":"FI->SE1","d":30,"h":2,"o":-450,"b":850},{"c":"FI->SE1","d":30,"h":4,"o":-700,"b":700},{"c":"FI->SE1","d":30,"h":6,"o":-1080,"b":400},{"c":"FI->SE1","d":30,"h":8,"o":-1150,"b":200},{"c":"FI->SE1","d":30,"h":10,"o":-1200,"b":-50},{"c":"FI->SE1","d":30,"h":12,"o":-1200,"b":-180},{"c":"FI->SE1","d":30,"h":14,"o":-1200,"b":-100},{"c":"FI->SE1","d":30,"h":16,"o":-1200,"b":50},{"c":"FI->SE1","d":30,"h":18,"o":-1200,"b":450},{"c":"FI->SE1","d":30,"h":20,"o":-1200,"b":650},{"c":"FI->SE1","d":30,"h":22,"o":-1180,"b":700},

{"c":"FI->SE3","d":1,"h":0,"o":200,"b":1150},{"c":"FI->SE3","d":1,"h":2,"o":200,"b":950},{"c":"FI->SE3","d":1,"h":4,"o":200,"b":1180},{"c":"FI->SE3","d":1,"h":6,"o":0,"b":780},{"c":"FI->SE3","d":1,"h":8,"o":200,"b":560},{"c":"FI->SE3","d":1,"h":10,"o":200,"b":480},{"c":"FI->SE3","d":1,"h":12,"o":200,"b":600},{"c":"FI->SE3","d":1,"h":14,"o":0,"b":0},{"c":"FI->SE3","d":1,"h":16,"o":200,"b":700},{"c":"FI->SE3","d":1,"h":18,"o":200,"b":800},{"c":"FI->SE3","d":1,"h":20,"o":200,"b":880},{"c":"FI->SE3","d":1,"h":22,"o":200,"b":1020},
{"c":"FI->SE3","d":2,"h":0,"o":380,"b":1200},{"c":"FI->SE3","d":2,"h":2,"o":400,"b":1200},{"c":"FI->SE3","d":2,"h":4,"o":220,"b":1200},{"c":"FI->SE3","d":2,"h":6,"o":390,"b":1200},{"c":"FI->SE3","d":2,"h":8,"o":400,"b":1150},{"c":"FI->SE3","d":2,"h":10,"o":360,"b":1200},{"c":"FI->SE3","d":2,"h":12,"o":200,"b":1200},{"c":"FI->SE3","d":2,"h":14,"o":60,"b":800},{"c":"FI->SE3","d":2,"h":16,"o":300,"b":-400},{"c":"FI->SE3","d":2,"h":18,"o":180,"b":-200},{"c":"FI->SE3","d":2,"h":20,"o":-20,"b":-560},{"c":"FI->SE3","d":2,"h":22,"o":-100,"b":-300},
{"c":"FI->SE3","d":3,"h":0,"o":0,"b":300},{"c":"FI->SE3","d":3,"h":2,"o":0,"b":580},{"c":"FI->SE3","d":3,"h":4,"o":0,"b":450},{"c":"FI->SE3","d":3,"h":6,"o":-100,"b":-300},{"c":"FI->SE3","d":3,"h":8,"o":0,"b":-1050},{"c":"FI->SE3","d":3,"h":10,"o":-900,"b":0},{"c":"FI->SE3","d":3,"h":12,"o":-1200,"b":-150},{"c":"FI->SE3","d":3,"h":14,"o":-1200,"b":-300},{"c":"FI->SE3","d":3,"h":16,"o":-900,"b":-200},{"c":"FI->SE3","d":3,"h":18,"o":-230,"b":-230},{"c":"FI->SE3","d":3,"h":20,"o":-80,"b":130},{"c":"FI->SE3","d":3,"h":22,"o":0,"b":500},
{"c":"FI->SE3","d":4,"h":0,"o":0,"b":600},{"c":"FI->SE3","d":4,"h":2,"o":0,"b":850},{"c":"FI->SE3","d":4,"h":4,"o":0,"b":700},{"c":"FI->SE3","d":4,"h":6,"o":0,"b":350},{"c":"FI->SE3","d":4,"h":8,"o":0,"b":150},{"c":"FI->SE3","d":4,"h":10,"o":-250,"b":100},{"c":"FI->SE3","d":4,"h":12,"o":-150,"b":0},{"c":"FI->SE3","d":4,"h":14,"o":0,"b":0},{"c":"FI->SE3","d":4,"h":16,"o":0,"b":-1100},{"c":"FI->SE3","d":4,"h":18,"o":280,"b":400},{"c":"FI->SE3","d":4,"h":20,"o":290,"b":320},{"c":"FI->SE3","d":4,"h":22,"o":290,"b":850},
{"c":"FI->SE3","d":5,"h":0,"o":290,"b":1200},{"c":"FI->SE3","d":5,"h":2,"o":290,"b":1200},{"c":"FI->SE3","d":5,"h":4,"o":290,"b":1200},{"c":"FI->SE3","d":5,"h":6,"o":290,"b":700},{"c":"FI->SE3","d":5,"h":8,"o":290,"b":-100},{"c":"FI->SE3","d":5,"h":10,"o":290,"b":-380},{"c":"FI->SE3","d":5,"h":12,"o":290,"b":-300},{"c":"FI->SE3","d":5,"h":14,"o":290,"b":0},{"c":"FI->SE3","d":5,"h":16,"o":290,"b":50},{"c":"FI->SE3","d":5,"h":18,"o":290,"b":200},{"c":"FI->SE3","d":5,"h":20,"o":290,"b":1000},{"c":"FI->SE3","d":5,"h":22,"o":290,"b":1100},
{"c":"FI->SE3","d":6,"h":0,"o":100,"b":650},{"c":"FI->SE3","d":6,"h":2,"o":100,"b":780},{"c":"FI->SE3","d":6,"h":4,"o":100,"b":1000},{"c":"FI->SE3","d":6,"h":6,"o":0,"b":1000},{"c":"FI->SE3","d":6,"h":8,"o":0,"b":200},{"c":"FI->SE3","d":6,"h":10,"o":0,"b":200},{"c":"FI->SE3","d":6,"h":12,"o":0,"b":500},{"c":"FI->SE3","d":6,"h":14,"o":0,"b":650},{"c":"FI->SE3","d":6,"h":16,"o":0,"b":-200},{"c":"FI->SE3","d":6,"h":18,"o":0,"b":400},{"c":"FI->SE3","d":6,"h":20,"o":0,"b":550},{"c":"FI->SE3","d":6,"h":22,"o":0,"b":950},
{"c":"FI->SE3","d":7,"h":0,"o":0,"b":230},{"c":"FI->SE3","d":7,"h":2,"o":0,"b":230},{"c":"FI->SE3","d":7,"h":4,"o":0,"b":-300},{"c":"FI->SE3","d":7,"h":6,"o":0,"b":250},{"c":"FI->SE3","d":7,"h":8,"o":0,"b":330},{"c":"FI->SE3","d":7,"h":10,"o":0,"b":440},{"c":"FI->SE3","d":7,"h":12,"o":0,"b":400},{"c":"FI->SE3","d":7,"h":14,"o":0,"b":480},{"c":"FI->SE3","d":7,"h":16,"o":0,"b":-300},{"c":"FI->SE3","d":7,"h":18,"o":0,"b":-500},{"c":"FI->SE3","d":7,"h":20,"o":0,"b":-450},{"c":"FI->SE3","d":7,"h":22,"o":80,"b":-50},
{"c":"FI->SE3","d":8,"h":0,"o":90,"b":200},{"c":"FI->SE3","d":8,"h":2,"o":90,"b":300},{"c":"FI->SE3","d":8,"h":4,"o":90,"b":-40},{"c":"FI->SE3","d":8,"h":6,"o":90,"b":180},{"c":"FI->SE3","d":8,"h":8,"o":90,"b":-230},{"c":"FI->SE3","d":8,"h":10,"o":90,"b":-200},{"c":"FI->SE3","d":8,"h":12,"o":90,"b":-200},{"c":"FI->SE3","d":8,"h":14,"o":90,"b":-350},{"c":"FI->SE3","d":8,"h":16,"o":90,"b":200},{"c":"FI->SE3","d":8,"h":18,"o":90,"b":100},{"c":"FI->SE3","d":8,"h":20,"o":90,"b":600},{"c":"FI->SE3","d":8,"h":22,"o":90,"b":230},
{"c":"FI->SE3","d":9,"h":0,"o":90,"b":650},{"c":"FI->SE3","d":9,"h":2,"o":90,"b":1100},{"c":"FI->SE3","d":9,"h":4,"o":90,"b":1190},{"c":"FI->SE3","d":9,"h":6,"o":0,"b":800},{"c":"FI->SE3","d":9,"h":8,"o":0,"b":300},{"c":"FI->SE3","d":9,"h":10,"o":70,"b":600},{"c":"FI->SE3","d":9,"h":12,"o":90,"b":1150},{"c":"FI->SE3","d":9,"h":14,"o":90,"b":1190},{"c":"FI->SE3","d":9,"h":16,"o":0,"b":1190},{"c":"FI->SE3","d":9,"h":18,"o":0,"b":700},{"c":"FI->SE3","d":9,"h":20,"o":0,"b":400},{"c":"FI->SE3","d":9,"h":22,"o":0,"b":820},
{"c":"FI->SE3","d":10,"h":0,"o":0,"b":200},{"c":"FI->SE3","d":10,"h":2,"o":0,"b":0},{"c":"FI->SE3","d":10,"h":4,"o":0,"b":-50},{"c":"FI->SE3","d":10,"h":6,"o":0,"b":-20},{"c":"FI->SE3","d":10,"h":8,"o":0,"b":50},{"c":"FI->SE3","d":10,"h":10,"o":-400,"b":-60},{"c":"FI->SE3","d":10,"h":12,"o":-1050,"b":-400},{"c":"FI->SE3","d":10,"h":14,"o":-980,"b":-60},{"c":"FI->SE3","d":10,"h":16,"o":-20,"b":-800},{"c":"FI->SE3","d":10,"h":18,"o":0,"b":100},{"c":"FI->SE3","d":10,"h":20,"o":0,"b":100},{"c":"FI->SE3","d":10,"h":22,"o":60,"b":0},
{"c":"FI->SE3","d":11,"h":0,"o":84,"b":-60},{"c":"FI->SE3","d":11,"h":2,"o":84,"b":-150},{"c":"FI->SE3","d":11,"h":4,"o":84,"b":-230},{"c":"FI->SE3","d":11,"h":6,"o":84,"b":-150},{"c":"FI->SE3","d":11,"h":8,"o":84,"b":30},{"c":"FI->SE3","d":11,"h":10,"o":84,"b":150},{"c":"FI->SE3","d":11,"h":12,"o":84,"b":60},{"c":"FI->SE3","d":11,"h":14,"o":84,"b":80},{"c":"FI->SE3","d":11,"h":16,"o":84,"b":200},{"c":"FI->SE3","d":11,"h":18,"o":84,"b":100},{"c":"FI->SE3","d":11,"h":20,"o":84,"b":-60},{"c":"FI->SE3","d":11,"h":22,"o":84,"b":50},
{"c":"FI->SE3","d":12,"h":0,"o":200,"b":400},{"c":"FI->SE3","d":12,"h":2,"o":200,"b":400},{"c":"FI->SE3","d":12,"h":4,"o":200,"b":380},{"c":"FI->SE3","d":12,"h":6,"o":150,"b":-600},{"c":"FI->SE3","d":12,"h":8,"o":84,"b":-820},{"c":"FI->SE3","d":12,"h":10,"o":84,"b":-500},{"c":"FI->SE3","d":12,"h":12,"o":84,"b":-50},{"c":"FI->SE3","d":12,"h":14,"o":84,"b":40},{"c":"FI->SE3","d":12,"h":16,"o":84,"b":-60},{"c":"FI->SE3","d":12,"h":18,"o":84,"b":-330},{"c":"FI->SE3","d":12,"h":20,"o":84,"b":-250},{"c":"FI->SE3","d":12,"h":22,"o":150,"b":-240},
{"c":"FI->SE3","d":13,"h":0,"o":290,"b":250},{"c":"FI->SE3","d":13,"h":2,"o":290,"b":260},{"c":"FI->SE3","d":13,"h":4,"o":150,"b":0},{"c":"FI->SE3","d":13,"h":6,"o":0,"b":-520},{"c":"FI->SE3","d":13,"h":8,"o":0,"b":-450},{"c":"FI->SE3","d":13,"h":10,"o":0,"b":-780},{"c":"FI->SE3","d":13,"h":12,"o":0,"b":380},{"c":"FI->SE3","d":13,"h":14,"o":0,"b":400},{"c":"FI->SE3","d":13,"h":16,"o":0,"b":-950},{"c":"FI->SE3","d":13,"h":18,"o":0,"b":-1200},{"c":"FI->SE3","d":13,"h":20,"o":0,"b":-1100},{"c":"FI->SE3","d":13,"h":22,"o":0,"b":-1020},
{"c":"FI->SE3","d":14,"h":0,"o":100,"b":150},{"c":"FI->SE3","d":14,"h":2,"o":100,"b":380},{"c":"FI->SE3","d":14,"h":4,"o":0,"b":380},{"c":"FI->SE3","d":14,"h":6,"o":0,"b":380},{"c":"FI->SE3","d":14,"h":8,"o":0,"b":330},{"c":"FI->SE3","d":14,"h":10,"o":0,"b":280},{"c":"FI->SE3","d":14,"h":12,"o":0,"b":380},{"c":"FI->SE3","d":14,"h":14,"o":0,"b":380},{"c":"FI->SE3","d":14,"h":16,"o":0,"b":380},{"c":"FI->SE3","d":14,"h":18,"o":0,"b":150},{"c":"FI->SE3","d":14,"h":20,"o":0,"b":290},{"c":"FI->SE3","d":14,"h":22,"o":0,"b":380},
{"c":"FI->SE3","d":15,"h":0,"o":0,"b":380},{"c":"FI->SE3","d":15,"h":2,"o":0,"b":380},{"c":"FI->SE3","d":15,"h":4,"o":0,"b":380},{"c":"FI->SE3","d":15,"h":6,"o":0,"b":380},{"c":"FI->SE3","d":15,"h":8,"o":0,"b":380},{"c":"FI->SE3","d":15,"h":10,"o":0,"b":380},{"c":"FI->SE3","d":15,"h":12,"o":0,"b":-100},{"c":"FI->SE3","d":15,"h":14,"o":0,"b":-460},{"c":"FI->SE3","d":15,"h":16,"o":0,"b":380},{"c":"FI->SE3","d":15,"h":18,"o":0,"b":380},{"c":"FI->SE3","d":15,"h":20,"o":0,"b":380},{"c":"FI->SE3","d":15,"h":22,"o":0,"b":380},
{"c":"FI->SE3","d":16,"h":0,"o":100,"b":300},{"c":"FI->SE3","d":16,"h":2,"o":100,"b":300},{"c":"FI->SE3","d":16,"h":4,"o":100,"b":550},{"c":"FI->SE3","d":16,"h":6,"o":0,"b":-50},{"c":"FI->SE3","d":16,"h":8,"o":0,"b":-500},{"c":"FI->SE3","d":16,"h":10,"o":0,"b":-300},{"c":"FI->SE3","d":16,"h":12,"o":0,"b":200},{"c":"FI->SE3","d":16,"h":14,"o":0,"b":50},{"c":"FI->SE3","d":16,"h":16,"o":0,"b":-100},{"c":"FI->SE3","d":16,"h":18,"o":0,"b":380},{"c":"FI->SE3","d":16,"h":20,"o":0,"b":100},{"c":"FI->SE3","d":16,"h":22,"o":100,"b":380},
{"c":"FI->SE3","d":17,"h":0,"o":100,"b":380},{"c":"FI->SE3","d":17,"h":2,"o":100,"b":380},{"c":"FI->SE3","d":17,"h":4,"o":100,"b":380},{"c":"FI->SE3","d":17,"h":6,"o":50,"b":380},{"c":"FI->SE3","d":17,"h":8,"o":0,"b":100},{"c":"FI->SE3","d":17,"h":10,"o":0,"b":200},{"c":"FI->SE3","d":17,"h":12,"o":0,"b":350},{"c":"FI->SE3","d":17,"h":14,"o":-700,"b":-200},{"c":"FI->SE3","d":17,"h":16,"o":0,"b":-1050},{"c":"FI->SE3","d":17,"h":18,"o":0,"b":0},{"c":"FI->SE3","d":17,"h":20,"o":0,"b":-20},{"c":"FI->SE3","d":17,"h":22,"o":0,"b":-40},
{"c":"FI->SE3","d":18,"h":0,"o":100,"b":-700},{"c":"FI->SE3","d":18,"h":2,"o":100,"b":-300},{"c":"FI->SE3","d":18,"h":4,"o":100,"b":-500},{"c":"FI->SE3","d":18,"h":6,"o":0,"b":-1100},{"c":"FI->SE3","d":18,"h":8,"o":0,"b":-1150},{"c":"FI->SE3","d":18,"h":10,"o":-300,"b":180},{"c":"FI->SE3","d":18,"h":12,"o":-1000,"b":-300},{"c":"FI->SE3","d":18,"h":14,"o":-400,"b":-200},{"c":"FI->SE3","d":18,"h":16,"o":-60,"b":300},{"c":"FI->SE3","d":18,"h":18,"o":-30,"b":-900},{"c":"FI->SE3","d":18,"h":20,"o":0,"b":-1070},{"c":"FI->SE3","d":18,"h":22,"o":0,"b":-1200},
{"c":"FI->SE3","d":19,"h":0,"o":84,"b":400},{"c":"FI->SE3","d":19,"h":2,"o":84,"b":400},{"c":"FI->SE3","d":19,"h":4,"o":30,"b":400},{"c":"FI->SE3","d":19,"h":6,"o":0,"b":200},{"c":"FI->SE3","d":19,"h":8,"o":0,"b":-1080},{"c":"FI->SE3","d":19,"h":10,"o":-30,"b":-1170},{"c":"FI->SE3","d":19,"h":12,"o":-100,"b":-1200},{"c":"FI->SE3","d":19,"h":14,"o":0,"b":-1000},{"c":"FI->SE3","d":19,"h":16,"o":-200,"b":-800},{"c":"FI->SE3","d":19,"h":18,"o":-100,"b":-850},{"c":"FI->SE3","d":19,"h":20,"o":0,"b":-400},{"c":"FI->SE3","d":19,"h":22,"o":0,"b":400},
{"c":"FI->SE3","d":20,"h":0,"o":0,"b":400},{"c":"FI->SE3","d":20,"h":2,"o":0,"b":400},{"c":"FI->SE3","d":20,"h":4,"o":0,"b":400},{"c":"FI->SE3","d":20,"h":6,"o":-150,"b":350},{"c":"FI->SE3","d":20,"h":8,"o":-200,"b":200},{"c":"FI->SE3","d":20,"h":10,"o":-50,"b":150},{"c":"FI->SE3","d":20,"h":12,"o":-80,"b":80},{"c":"FI->SE3","d":20,"h":14,"o":-180,"b":80},{"c":"FI->SE3","d":20,"h":16,"o":-250,"b":60},{"c":"FI->SE3","d":20,"h":18,"o":-80,"b":-900},{"c":"FI->SE3","d":20,"h":20,"o":-130,"b":-1150},{"c":"FI->SE3","d":20,"h":22,"o":40,"b":300},
{"c":"FI->SE3","d":21,"h":0,"o":0,"b":200},{"c":"FI->SE3","d":21,"h":2,"o":80,"b":400},{"c":"FI->SE3","d":21,"h":4,"o":0,"b":350},{"c":"FI->SE3","d":21,"h":6,"o":0,"b":150},{"c":"FI->SE3","d":21,"h":8,"o":0,"b":20},{"c":"FI->SE3","d":21,"h":10,"o":0,"b":130},{"c":"FI->SE3","d":21,"h":12,"o":0,"b":400},{"c":"FI->SE3","d":21,"h":14,"o":0,"b":400},{"c":"FI->SE3","d":21,"h":16,"o":0,"b":400},{"c":"FI->SE3","d":21,"h":18,"o":0,"b":470},{"c":"FI->SE3","d":21,"h":20,"o":0,"b":600},{"c":"FI->SE3","d":21,"h":22,"o":0,"b":1150},
{"c":"FI->SE3","d":22,"h":0,"o":0,"b":60},{"c":"FI->SE3","d":22,"h":2,"o":0,"b":900},{"c":"FI->SE3","d":22,"h":4,"o":0,"b":-300},{"c":"FI->SE3","d":22,"h":6,"o":-100,"b":-200},{"c":"FI->SE3","d":22,"h":8,"o":-350,"b":-300},{"c":"FI->SE3","d":22,"h":10,"o":-550,"b":-250},{"c":"FI->SE3","d":22,"h":12,"o":-620,"b":-350},{"c":"FI->SE3","d":22,"h":14,"o":-680,"b":-380},{"c":"FI->SE3","d":22,"h":16,"o":-300,"b":-60},{"c":"FI->SE3","d":22,"h":18,"o":-50,"b":200},{"c":"FI->SE3","d":22,"h":20,"o":0,"b":300},{"c":"FI->SE3","d":22,"h":22,"o":0,"b":1000},
{"c":"FI->SE3","d":23,"h":0,"o":100,"b":1210},{"c":"FI->SE3","d":23,"h":2,"o":100,"b":1210},{"c":"FI->SE3","d":23,"h":4,"o":0,"b":1210},{"c":"FI->SE3","d":23,"h":6,"o":100,"b":1100},{"c":"FI->SE3","d":23,"h":8,"o":0,"b":1100},{"c":"FI->SE3","d":23,"h":10,"o":60,"b":1210},{"c":"FI->SE3","d":23,"h":12,"o":60,"b":1210},{"c":"FI->SE3","d":23,"h":14,"o":30,"b":1210},{"c":"FI->SE3","d":23,"h":16,"o":0,"b":900},{"c":"FI->SE3","d":23,"h":18,"o":0,"b":800},{"c":"FI->SE3","d":23,"h":20,"o":0,"b":900},{"c":"FI->SE3","d":23,"h":22,"o":20,"b":1150},
{"c":"FI->SE3","d":24,"h":0,"o":100,"b":1210},{"c":"FI->SE3","d":24,"h":2,"o":100,"b":1210},{"c":"FI->SE3","d":24,"h":4,"o":100,"b":1210},{"c":"FI->SE3","d":24,"h":6,"o":0,"b":900},{"c":"FI->SE3","d":24,"h":8,"o":0,"b":600},{"c":"FI->SE3","d":24,"h":10,"o":0,"b":700},{"c":"FI->SE3","d":24,"h":12,"o":-300,"b":600},{"c":"FI->SE3","d":24,"h":14,"o":-450,"b":200},{"c":"FI->SE3","d":24,"h":16,"o":-60,"b":-1150},{"c":"FI->SE3","d":24,"h":18,"o":0,"b":-500},{"c":"FI->SE3","d":24,"h":20,"o":0,"b":-850},{"c":"FI->SE3","d":24,"h":22,"o":0,"b":-1100},
{"c":"FI->SE3","d":25,"h":0,"o":0,"b":-1210},{"c":"FI->SE3","d":25,"h":2,"o":0,"b":-1210},{"c":"FI->SE3","d":25,"h":4,"o":0,"b":-1210},{"c":"FI->SE3","d":25,"h":6,"o":0,"b":-1050},{"c":"FI->SE3","d":25,"h":8,"o":0,"b":-1210},{"c":"FI->SE3","d":25,"h":10,"o":-200,"b":100},{"c":"FI->SE3","d":25,"h":12,"o":-1040,"b":-900},{"c":"FI->SE3","d":25,"h":14,"o":-300,"b":-1100},{"c":"FI->SE3","d":25,"h":16,"o":0,"b":0},{"c":"FI->SE3","d":25,"h":18,"o":0,"b":-1100},{"c":"FI->SE3","d":25,"h":20,"o":0,"b":-1050},{"c":"FI->SE3","d":25,"h":22,"o":0,"b":-950},
{"c":"FI->SE3","d":26,"h":0,"o":0,"b":-800},{"c":"FI->SE3","d":26,"h":2,"o":0,"b":-900},{"c":"FI->SE3","d":26,"h":4,"o":0,"b":-1150},{"c":"FI->SE3","d":26,"h":6,"o":0,"b":-1210},{"c":"FI->SE3","d":26,"h":8,"o":0,"b":-1210},{"c":"FI->SE3","d":26,"h":10,"o":-200,"b":-1210},{"c":"FI->SE3","d":26,"h":12,"o":-400,"b":-1210},{"c":"FI->SE3","d":26,"h":14,"o":-400,"b":-1210},{"c":"FI->SE3","d":26,"h":16,"o":-400,"b":-1210},{"c":"FI->SE3","d":26,"h":18,"o":-400,"b":-1210},{"c":"FI->SE3","d":26,"h":20,"o":-250,"b":-1210},{"c":"FI->SE3","d":26,"h":22,"o":0,"b":150},
{"c":"FI->SE3","d":27,"h":0,"o":0,"b":-1210},{"c":"FI->SE3","d":27,"h":2,"o":0,"b":-1210},{"c":"FI->SE3","d":27,"h":4,"o":0,"b":-1210},{"c":"FI->SE3","d":27,"h":6,"o":-300,"b":-1210},{"c":"FI->SE3","d":27,"h":8,"o":-380,"b":-1210},{"c":"FI->SE3","d":27,"h":10,"o":-950,"b":-1210},{"c":"FI->SE3","d":27,"h":12,"o":-1210,"b":-1210},{"c":"FI->SE3","d":27,"h":14,"o":-1150,"b":-1210},{"c":"FI->SE3","d":27,"h":16,"o":-900,"b":-1210},{"c":"FI->SE3","d":27,"h":18,"o":-550,"b":-1210},{"c":"FI->SE3","d":27,"h":20,"o":-150,"b":-1210},{"c":"FI->SE3","d":27,"h":22,"o":-250,"b":-1210},
{"c":"FI->SE3","d":28,"h":0,"o":0,"b":-1210},{"c":"FI->SE3","d":28,"h":2,"o":0,"b":-1210},{"c":"FI->SE3","d":28,"h":4,"o":0,"b":-1210},{"c":"FI->SE3","d":28,"h":6,"o":-150,"b":-1210},{"c":"FI->SE3","d":28,"h":8,"o":-200,"b":-1210},{"c":"FI->SE3","d":28,"h":10,"o":-300,"b":-1210},{"c":"FI->SE3","d":28,"h":12,"o":-480,"b":-1210},{"c":"FI->SE3","d":28,"h":14,"o":-450,"b":-1210},{"c":"FI->SE3","d":28,"h":16,"o":-350,"b":-1210},{"c":"FI->SE3","d":28,"h":18,"o":-100,"b":-1210},{"c":"FI->SE3","d":28,"h":20,"o":0,"b":-1210},{"c":"FI->SE3","d":28,"h":22,"o":0,"b":-1210},
{"c":"FI->SE3","d":29,"h":0,"o":0,"b":-1210},{"c":"FI->SE3","d":29,"h":2,"o":0,"b":-1210},{"c":"FI->SE3","d":29,"h":4,"o":0,"b":-1210},{"c":"FI->SE3","d":29,"h":6,"o":-50,"b":-1210},{"c":"FI->SE3","d":29,"h":8,"o":-100,"b":-1210},{"c":"FI->SE3","d":29,"h":10,"o":-600,"b":-1210},{"c":"FI->SE3","d":29,"h":12,"o":-740,"b":-1210},{"c":"FI->SE3","d":29,"h":14,"o":-400,"b":-1210},{"c":"FI->SE3","d":29,"h":16,"o":0,"b":-1210},{"c":"FI->SE3","d":29,"h":18,"o":0,"b":-1210},{"c":"FI->SE3","d":29,"h":20,"o":0,"b":-1210},{"c":"FI->SE3","d":29,"h":22,"o":0,"b":-1100},
{"c":"FI->SE3","d":30,"h":0,"o":0,"b":-1210},{"c":"FI->SE3","d":30,"h":2,"o":0,"b":-1210},{"c":"FI->SE3","d":30,"h":4,"o":0,"b":-1210},{"c":"FI->SE3","d":30,"h":6,"o":0,"b":-1210},{"c":"FI->SE3","d":30,"h":8,"o":0,"b":-1210},{"c":"FI->SE3","d":30,"h":10,"o":-300,"b":-1210},{"c":"FI->SE3","d":30,"h":12,"o":-310,"b":-1210},{"c":"FI->SE3","d":30,"h":14,"o":-200,"b":-1210},{"c":"FI->SE3","d":30,"h":16,"o":-100,"b":-1210},{"c":"FI->SE3","d":30,"h":18,"o":-20,"b":-1210},{"c":"FI->SE3","d":30,"h":20,"o":0,"b":-1210},{"c":"FI->SE3","d":30,"h":22,"o":0,"b":-1210}
]},
"transform": [{"fold": ["o", "b"], "as": ["s", "v"]}],
"spacing": {"row": 0, "column": 0},
"bounds": "flush",
"facet": {
  "row": {"field": "c", "type": "nominal", "sort": ["FI->EE", "FI->SE1", "FI->SE3"], "title": null,
    "header": {"labelAngle": 0, "labelAlign": "left", "labelBaseline": "middle", "labelFontSize": 27.5, "labelColor": "#555555", "labelFont": "Liberation Sans", "labelPadding": -113,
      "labelExpr": "datum.value === 'FI->EE' ? 'FI->EE\u00a0\u00a0\u200b' : datum.value"}},
  "column": {"field": "d", "type": "ordinal", "title": ["2023", "June"],
    "header": {"labelFontSize": 16, "labelColor": "#555555", "labelFont": "Liberation Sans", "labelPadding": -26,
      "titleFontSize": 20, "titleColor": "#555555", "titleFont": "Liberation Sans", "titleFontWeight": "normal", "titleLineHeight": 27, "titlePadding": -9}}
},
"spec": {
  "width": 43,
  "height": 241,
  "mark": {"type": "line", "strokeWidth": 3, "strokeJoin": "round", "strokeCap": "round"},
  "encoding": {
    "x": {"field": "h", "type": "quantitative", "scale": {"domain": [0, 22], "nice": false, "zero": false},
      "axis": {"orient": "top", "values": [0, 22], "labels": false, "domain": false, "grid": false, "ticks": true, "tickSize": 28, "tickColor": "#cccccc", "tickWidth": 1.3, "title": null}},
    "y": {"field": "v", "type": "quantitative", "scale": {"domain": [-1690, 1345], "nice": false, "zero": false},
      "axis": {"values": [-1690, -1000, 0, 1000, 1345], "title": null, "domain": false, "ticks": true, "tickSize": 268, "tickColor": "#cccccc", "tickWidth": 1.3,
        "tickOpacity": {"condition": {"test": "abs(datum.value) > 1100", "value": 1}, "value": 0},
        "labelPadding": -257,
        "labelExpr": "abs(datum.value) > 1100 ? '' : replace(format(datum.value, ','), '\u2212', '-') + 'MW'",
        "labelFontSize": 21, "labelColor": "#666666", "labelFont": "Liberation Sans",
        "grid": true,
        "gridColor": {"condition": {"test": "datum.value === 0", "value": "#b8b8b8"}, "value": "#e9ecef"},
        "gridDash": {"condition": {"test": "datum.value === 0", "value": [1.5, 1.5]}, "value": []},
        "gridOpacity": {"condition": {"test": "abs(datum.value) > 1100", "value": 0}, "value": 1}}},
    "color": {"field": "s", "type": "nominal", "scale": {"domain": ["o", "b"], "range": ["#f28e2b", "#4e79a7"]}, "legend": null}
  }
},
"config": {"view": {"stroke": "#cccccc", "strokeWidth": 1.3}, "font": "Liberation Sans"}
}
